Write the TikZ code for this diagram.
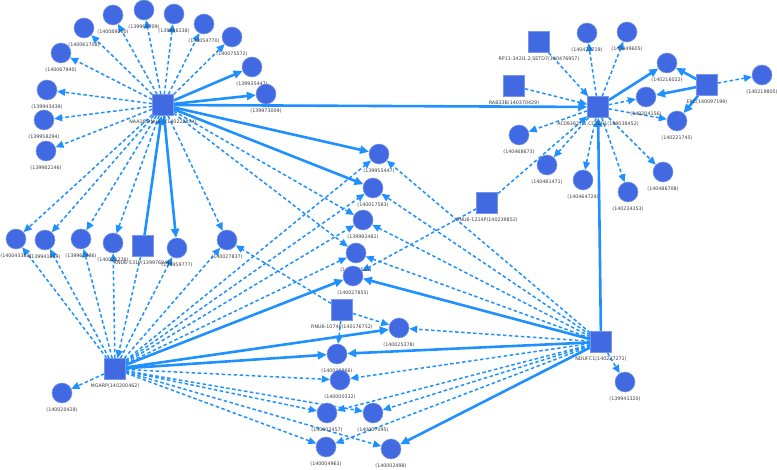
\documentclass[tikz,border=0pt]{standalone}
\usepackage{fontspec}
\setmainfont{DejaVu Sans}
\usetikzlibrary{arrows.meta,backgrounds}
\definecolor{nodeblue}{RGB}{65,105,225}
\definecolor{nodeedge}{RGB}{120,150,235}
\definecolor{edgeblue}{RGB}{30,144,255}
\definecolor{labgray}{RGB}{60,60,60}
\tikzset{
  cn/.style={circle, fill=nodeblue, draw=nodeedge, line width=0.5pt, minimum size=20pt, inner sep=0pt},
  sn/.style={rectangle, fill=nodeblue, draw=nodeedge, line width=0.5pt, minimum size=21pt, inner sep=0pt},
  lab/.style={font=\fontsize{4.8}{5}\selectfont, text=labgray, inner sep=0pt},
  se/.style={draw=edgeblue, line width=2.6pt, -{Triangle[length=9pt,width=8pt]}},
  de/.style={draw=edgeblue, line width=1.5pt, dash pattern=on 3.5pt off 2.5pt, -{Triangle[length=8pt,width=7pt]}},
}
\newcommand\mknode[4]{\node[#1] (#2) at (#3) {}; \path (#2.center) ++(0,17) node[lab] {#4};}
\begin{document}
\begin{tikzpicture}[x=1pt,y=-1pt]
\useasboundingbox (0,0) rectangle (777,470);
% hubs and squares
\mknode{sn}{A}{163,105}{NAA16,RNU6-1(140222874)}
\mknode{sn}{B}{598,107}{AC093627.1,CCSER1(138038452)}
\mknode{sn}{C}{115,369}{MGARP(140200462)}
\mknode{sn}{D}{601,342}{NDUFC1(140227271)}
\mknode{sn}{s531}{143,246}{RNU6-531P(139976841)}
\mknode{sn}{q}{342,310}{RNU6-1074P(140176752)}
\mknode{sn}{p}{487,203}{RNU6-1214P(140239852)}
\mknode{sn}{rp}{539,42}{RP11-342I1.2,SETD7(140476957)}
\mknode{sn}{rab}{514,86}{RAB33B(140370429)}
\mknode{sn}{erc}{707,85}{ERC(140097199)}
% ring around A
\mknode{cn}{n1}{113,15}{(140089200)}
\mknode{cn}{n2}{144,10}{(139966709)}
\mknode{cn}{n3}{174,14}{(139986138)}
\mknode{cn}{n4}{204,24}{(140054770)}
\mknode{cn}{n5}{232,37}{(140075572)}
\mknode{cn}{n6}{252,67}{(139935447)}
\mknode{cn}{n7}{266,94}{(139973009)}
\mknode{cn}{n8}{84,28}{(140061708)}
\mknode{cn}{n9}{61,53}{(140067940)}
\mknode{cn}{n10}{47,90}{(139943439)}
\mknode{cn}{n11}{44,120}{(139958294)}
\mknode{cn}{n12}{46,151}{(139982146)}
% row between A and C
\mknode{cn}{r1}{16,239}{(140043380)}
\mknode{cn}{r2}{45,240}{(139941609)}
\mknode{cn}{r3}{81,239}{(139961686)}
\mknode{cn}{r4}{113,243}{(140021226)}
\mknode{cn}{r5}{177,248}{(139959777)}
\mknode{cn}{r6}{227,240}{(140027837)}
\mknode{cn}{c1}{62,393}{(140020428)}
% centre column
\mknode{cn}{m1}{379,154}{(139955447)}
\mknode{cn}{m2}{373,188}{(140017583)}
\mknode{cn}{m3}{363,220}{(139992481)}
\mknode{cn}{m4}{356,253}{(140031511)}
\mknode{cn}{m5}{353,276}{(140027855)}
\mknode{cn}{b1}{399,328}{(140025378)}
\mknode{cn}{b2}{337,354}{(140026866)}
\mknode{cn}{b3}{340,380}{(140000332)}
\mknode{cn}{b4}{327,413}{(140002457)}
\mknode{cn}{b5}{373,413}{(140007095)}
\mknode{cn}{b6}{326,447}{(140004963)}
\mknode{cn}{b7}{391,449}{(140002498)}
\mknode{cn}{d1}{625,382}{(139941320)}
% right cluster
\mknode{cn}{k1}{587,33}{(140472719)}
\mknode{cn}{k2}{627,32}{(140449605)}
\mknode{cn}{k3}{667,63}{(140216022)}
\mknode{cn}{k4}{646,97}{(140204156)}
\mknode{cn}{k5}{677,121}{(140221745)}
\mknode{cn}{k6}{762,75}{(140219805)}
\mknode{cn}{k7}{519,135}{(140468673)}
\mknode{cn}{k8}{547,165}{(140481471)}
\mknode{cn}{k9}{583,180}{(140464724)}
\mknode{cn}{k10}{628,192}{(140234353)}
\mknode{cn}{k11}{663,172}{(140486708)}
\begin{pgfonlayer}{background}
% A
\foreach \t in {n1,n2,n3,n4,n5,n8,n9,n10,n11,n12,m3,m4,r1,r2,r3,r4,r6} \draw[de] (A) -- (\t);
\foreach \t in {n6,n7,B,m1,m2,r5} \draw[se] (A) -- (\t);
\draw[se] (s531) -- (A);
% C
\foreach \t in {r1,r2,r3,r4,r5,r6,c1,m1,m2,m3,m4,b3,b4,b5,b6,b7} \draw[de] (C) -- (\t);
\foreach \t in {m5,b1,b2} \draw[se] (C) -- (\t);
\draw[de] (s531) -- (C);
% D
\foreach \t in {m1,m2,m3,m4,b1,b3,b4,b5,b6,d1} \draw[de] (D) -- (\t);
\foreach \t in {B,m5,b2,b7} \draw[se] (D) -- (\t);
% small squares
\foreach \t in {r6,b1,b2} \draw[de] (q) -- (\t);
\draw[de] (p) -- (B);
\draw[de] (p) -- (m5);
\draw[de] (rp) -- (B);
\draw[de] (rab) -- (B);
% B
\foreach \t in {k1,k2,k4,k5,k7,k8,k9,k10,k11} \draw[de] (B) -- (\t);
\draw[se] (B) -- (k3);
% ERC
\foreach \t in {k3,k4,k5} \draw[se] (erc) -- (\t);
\draw[de] (erc) -- (k6);
\end{pgfonlayer}
\end{tikzpicture}
\end{document}
